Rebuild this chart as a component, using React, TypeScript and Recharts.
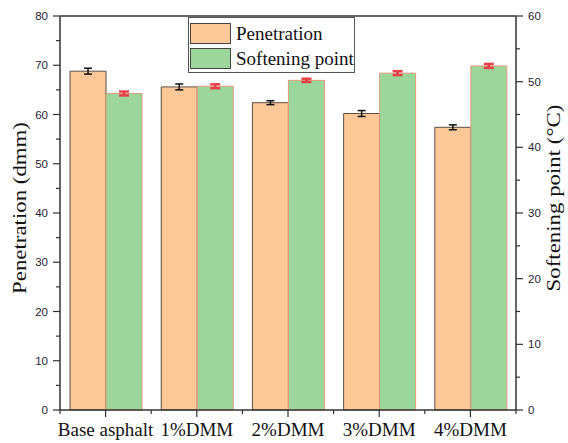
import React from 'react';
import { ComposedChart, Bar, XAxis, YAxis, ErrorBar, ReferenceLine, Label } from 'recharts';

const categories = ['Base asphalt', '1%DMM', '2%DMM', '3%DMM', '4%DMM'];
const penetration = [68.8, 65.6, 62.4, 60.2, 57.4];
const penetrationErr = [0.6, 0.6, 0.4, 0.6, 0.5];
const softening = [48.2, 49.3, 50.2, 51.3, 52.4];
const softeningErr = [0.3, 0.3, 0.25, 0.3, 0.3];
const leftTicks = [0, 5, 10, 15, 20, 25, 30, 35, 40, 45, 50, 55, 60, 65, 70, 75, 80];
const rightTicks = [0, 5, 10, 15, 20, 25, 30, 35, 40, 45, 50, 55, 60];

const data = categories.map((name, i) => ({
  name,
  pen: penetration[i],
  penErr: penetrationErr[i],
  soft: softening[i],
  softErr: softeningErr[i],
}));

const W = 568;
const H = 443;
const LEFT_W = 60;
const RIGHT_W = 52;
const TOP = 16;
const X_H = 33;
const BAND = (W - LEFT_W - RIGHT_W) / categories.length;

const AX = '#333';
const SANS = '"Liberation Sans", Arial, sans-serif';
const SERIF = '"Liberation Serif", "Times New Roman", serif';

const LeftTick = (p: any) => {
  const { x, y, payload } = p;
  const major = payload.value % 10 === 0;
  return (
    <g>
      <line x1={x - (major ? 7 : 4)} x2={x} y1={y} y2={y} stroke={AX} strokeWidth={1.2} />
      {major && (
        <text x={x - 12} y={y} dy="0.36em" textAnchor="end" fontSize={11.5} fontFamily={SANS} fill="#1e2230">
          {payload.value}
        </text>
      )}
    </g>
  );
};

const RightTick = (p: any) => {
  const { x, y, payload } = p;
  const major = payload.value % 10 === 0;
  return (
    <g>
      <line x1={x} x2={x + (major ? 7 : 4)} y1={y} y2={y} stroke={AX} strokeWidth={1.2} />
      {major && (
        <text x={x + 12} y={y} dy="0.36em" textAnchor="start" fontSize={11.5} fontFamily={SANS} fill="#1e2230">
          {payload.value}
        </text>
      )}
    </g>
  );
};

const BottomTick = (p: any) => {
  const { x, y, payload, index } = p;
  const last = index === categories.length - 1;
  return (
    <g>
      <line x1={x} x2={x} y1={y} y2={y + 7} stroke={AX} strokeWidth={1.2} />
      <line x1={x - BAND / 2} x2={x - BAND / 2} y1={y} y2={y + 4} stroke={AX} strokeWidth={1.2} />
      {last && <line x1={x + BAND / 2} x2={x + BAND / 2} y1={y} y2={y + 4} stroke={AX} strokeWidth={1.2} />}
      <text x={x} y={y + 26} textAnchor="middle" fontSize={19} fontFamily={SERIF} fill="#111">
        {payload.value}
      </text>
    </g>
  );
};

const TitleLabel = (text: string, dx: number, cy: number) => (props: any) => {
  const vb = props.viewBox;
  const x = vb.x + dx;
  const y = cy;
  return (
    <text
      transform={`translate(${x},${y}) rotate(-90) scale(1.27,1)`}
      textAnchor="middle"
      dominantBaseline="central"
      fontSize={18}
      fontFamily={SERIF}
      fill="#111"
    >
      {text}
    </text>
  );
};

const LegendBox = () => (
  <div
    style={{
      position: 'absolute',
      left: 188,
      top: 17,
      width: 165,
      height: 54,
      border: '1px solid #555',
      background: '#fff',
      fontFamily: SERIF,
      fontSize: 19,
      color: '#111',
    }}
  >
    {[
      { label: 'Penetration', fill: '#FDC898' },
      { label: 'Softening point', fill: '#9CD69B' },
    ].map((it, i) => (
      <div key={i} style={{ position: 'absolute', left: 1, top: 5 + i * 25, height: 21, display: 'flex', alignItems: 'center' }}>
        <div style={{ width: 39, height: 19, background: it.fill, border: '1px solid #444' }} />
        <span style={{ marginLeft: 5, lineHeight: '21px', whiteSpace: 'nowrap' }}>{it.label}</span>
      </div>
    ))}
  </div>
);

export default function App() {
  return (
    <div style={{ position: 'absolute', left: 0, top: 0, width: W, height: H, background: '#fff' }}>
      <ComposedChart
        width={W}
        height={H}
        data={data}
        margin={{ top: TOP, right: 0, bottom: 0, left: 0 }}
        barCategoryGap="11%"
        barGap={0}
      >
        <XAxis
          dataKey="name"
          height={X_H}
          interval={0}
          tickSize={0}
          tickMargin={0}
          tickLine={false}
          tick={<BottomTick />}
          axisLine={{ stroke: AX, strokeWidth: 1.5 }}
        />
        <YAxis
          yAxisId="left"
          orientation="left"
          width={LEFT_W}
          domain={[0, 80]}
          ticks={leftTicks}
          interval={0}
          tickSize={0}
          tickMargin={0}
          tickLine={false}
          tick={<LeftTick />}
          axisLine={{ stroke: AX, strokeWidth: 1.5 }}
        >
          <Label content={TitleLabel('Penetration (dmm)', 20, 208)} />
        </YAxis>
        <YAxis
          yAxisId="right"
          orientation="right"
          width={RIGHT_W}
          domain={[0, 60]}
          ticks={rightTicks}
          interval={0}
          tickSize={0}
          tickMargin={0}
          tickLine={false}
          tick={<RightTick />}
          axisLine={{ stroke: AX, strokeWidth: 1.5 }}
        >
          <Label content={TitleLabel('Softening point (°C)', 38, 198)} />
        </YAxis>
        <ReferenceLine yAxisId="left" y={80} stroke={AX} strokeWidth={1.5} />
        <Bar yAxisId="left" dataKey="pen" fill="#FDC898" stroke="#5a4e46" strokeWidth={1} isAnimationActive={false}>
          <ErrorBar dataKey="penErr" width={4} stroke="#111" strokeWidth={1.5} direction="y" />
        </Bar>
        <Bar yAxisId="right" dataKey="soft" fill="#9CD69B" stroke="#E39A7A" strokeWidth={1} isAnimationActive={false}>
          <ErrorBar dataKey="softErr" width={5} stroke="#E8404A" strokeWidth={2.5} direction="y" />
        </Bar>
      </ComposedChart>
      <LegendBox />
    </div>
  );
}
